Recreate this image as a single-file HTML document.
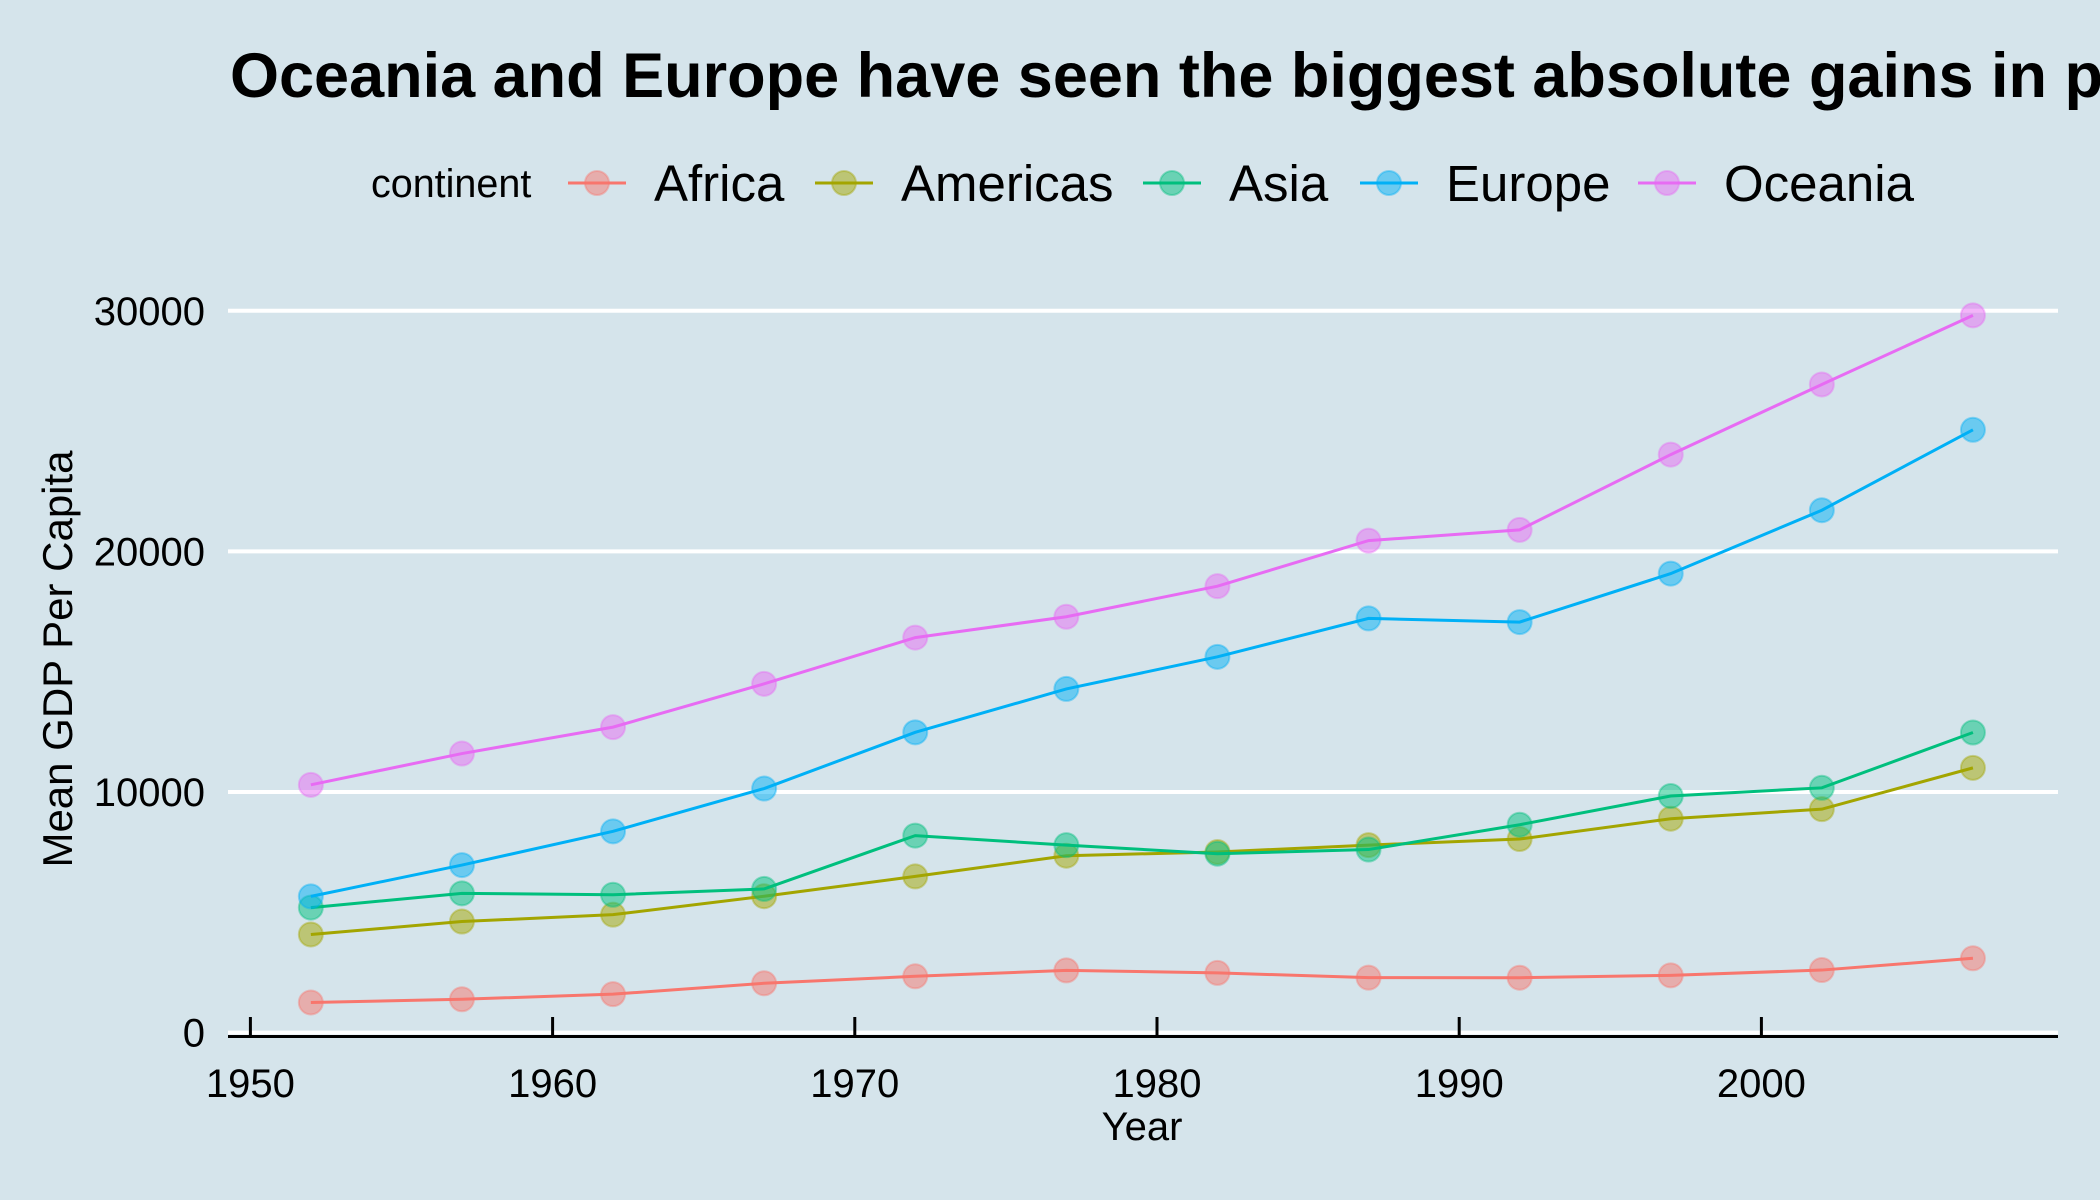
<!DOCTYPE html>
<html><head><meta charset="utf-8"><style>
body{margin:0;background:#d5e4eb;}
svg{display:block;font-family:"Liberation Sans",sans-serif;}
</style></head><body>
<svg id="chart" width="2100" height="1200" viewBox="0 0 2100 1200">
<rect width="2100" height="1200" fill="#d5e4eb"/>
<text x="230" y="97" font-size="63" font-weight="bold" fill="#000">Oceania and Europe have seen the biggest absolute gains in per capita GDP</text>
<g id="legend">
<text x="371" y="197" font-size="39.5" fill="#000">continent</text>
</g>
<g id="grid"></g>
<g id="axes"></g>
<g id="series"></g>
<text x="1142" y="1140" font-size="40" text-anchor="middle">Year</text>
<text transform="translate(72,659) rotate(-90)" font-size="42" text-anchor="middle">Mean GDP Per Capita</text>
</svg>
<script>
const years=[1952,1957,1962,1967,1972,1977,1982,1987,1992,1997,2002,2007];
const continents=["Africa","Americas","Asia","Europe","Oceania"];
const africa=[1252.6,1385.2,1598.1,2050.4,2339.6,2585.9,2481.6,2282.7,2281.8,2378.8,2599.4,3089.0];
const americas=[4079.1,4616.0,4901.5,5668.3,6491.3,7352.0,7506.7,7793.4,8044.9,8889.3,9287.7,11003.0];
const asia=[5195.5,5787.7,5729.4,5971.2,8187.5,7791.3,7434.1,7608.3,8640.0,9834.1,10174.1,12473.0];
const europe=[5661.1,6963.0,8365.5,10143.8,12479.6,14283.9,15617.9,17214.3,17061.6,19076.8,21711.7,25054.5];
const oceania=[10298.1,11598.5,12696.5,14495.0,16417.3,17284.0,18554.7,20448.0,20894.0,24024.2,26938.8,29810.2];
const yTicks=[0,10000,20000,30000];
const xTicks=[1950,1960,1970,1980,1990,2000];
const colors=["#F8766D","#A3A500","#00BF7D","#00B0F6","#E76BF3"];
const seriesVals=[africa,americas,asia,europe,oceania];
const NS="http://www.w3.org/2000/svg";
function x(yr){return 250.4+(yr-1950)*30.22;}
function y(v){return 1032.6-v*0.02406;}
function mk(tag,attrs,parent,text){const e=document.createElementNS(NS,tag);for(const k in attrs)e.setAttribute(k,attrs[k]);if(text!==undefined)e.textContent=text;parent.appendChild(e);return e;}
const grid=document.getElementById('grid'),axes=document.getElementById('axes'),ser=document.getElementById('series'),leg=document.getElementById('legend');
yTicks.forEach(t=>{
  const l=mk('line',{x1:228,x2:2058,y1:y(t),y2:y(t),stroke:'#fff','stroke-width':4},grid);
  
  
  const tx=mk('text',{x:205,y:y(t)+14,'font-size':40,'text-anchor':'end'},axes,String(t));
  
  
});
const ax=mk('line',{x1:228,x2:2058,y1:1036.5,y2:1036.5,stroke:'#000','stroke-width':3},axes);


xTicks.forEach(t=>{
  const tk=mk('line',{x1:x(t),x2:x(t),y1:1017,y2:1036,stroke:'#000','stroke-width':3},axes);
  
  
  const tx=mk('text',{x:x(t),y:1097,'font-size':40,'text-anchor':'middle'},axes,String(t));
  
  
});
seriesVals.forEach((vals,i)=>{
  const g=mk('g',{},ser);
  
  
  const pts=vals.map((v,j)=>x(years[j])+','+y(v)).join(' ');
  const pl=mk('polyline',{points:pts,fill:'none',stroke:colors[i],'stroke-width':3},g);
  
  
  vals.forEach((v,j)=>{
    const c=mk('circle',{cx:x(years[j]),cy:y(v),r:12,fill:colors[i],'fill-opacity':0.5,stroke:colors[i],'stroke-opacity':0.4,'stroke-width':2},g);
    
    
  });
});
const keyX=[597,844,1172,1389,1667];
continents.forEach((n,i)=>{
  const g=mk('g',{},leg);
  
  
  mk('line',{x1:keyX[i]-29,x2:keyX[i]+29,y1:183,y2:183,stroke:colors[i],'stroke-width':3},g);
  mk('circle',{cx:keyX[i],cy:183,r:12,fill:colors[i],'fill-opacity':0.5,stroke:colors[i],'stroke-opacity':0.4,'stroke-width':2},g);
  mk('text',{x:keyX[i]+57,y:201,'font-size':51},g,n);
});
</script>
</body></html>
